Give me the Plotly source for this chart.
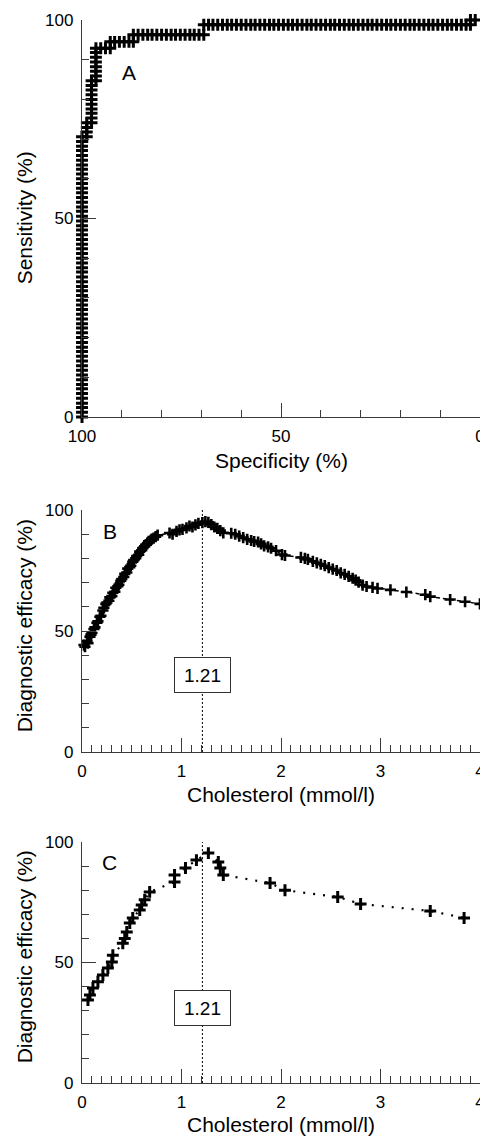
import plotly.graph_objects as go

# ---------------- Panel A: ROC curve ----------------
roc_specificity = [
    # vertical run at 100 %
    100, 100, 100, 100, 100, 100, 100, 100, 100, 100,
    100, 100, 100, 100, 100, 100, 100, 100, 100, 100,
    100, 100, 100, 100, 100, 100, 100, 100, 100, 100,
    100, 100, 100, 100, 100, 100, 100, 100, 100, 100,
    100, 100, 100, 100, 100, 100, 100, 100, 100, 100,
    100, 100, 100, 100, 100, 100, 100, 100, 100, 100,
    100,
    98.8, 98.8, 98.8, 98.8,
    97.6, 97.6, 97.6, 97.6, 97.6, 97.6, 97.6, 97.6, 97.6, 97.6,
    96.5, 96.5, 96.5, 96.5, 96.5, 96.5, 96.5, 96.5,
    95.3, 94.1, 92.9,
    92.9, 91.8, 90.6, 89.4, 88.2, 87.1,
    87.1, 85.9, 84.7, 83.5, 82.4, 81.2, 80.0, 78.8, 77.6,
    76.5, 75.3, 74.1, 72.9, 71.8, 70.6, 69.4,
    69.4, 68.2, 67.1, 65.9, 64.7, 63.5, 62.4, 61.2, 60.0, 58.8,
    57.6, 56.5, 55.3, 54.1, 52.9, 51.8, 50.6, 49.4, 48.2, 47.1,
    45.9, 44.7, 43.5, 42.4, 41.2, 40.0, 38.8, 37.6, 36.5, 35.3,
    34.1, 32.9, 31.8, 30.6, 29.4, 28.2, 27.1, 25.9, 24.7, 23.5,
    22.4, 21.2, 20.0, 18.8, 17.6, 16.5, 15.3, 14.1, 12.9, 11.8,
    10.6, 9.4, 8.2, 7.1, 5.9, 4.7, 3.5, 2.4,
    2.4, 1.2,
]
roc_sensitivity = [
    0.0, 1.2, 2.4, 3.5, 4.7, 5.9, 7.1, 8.2, 9.4, 10.6,
    11.8, 12.9, 14.1, 15.3, 16.5, 17.6, 18.8, 20.0, 21.2, 22.4,
    23.5, 24.7, 25.9, 27.1, 28.2, 29.4, 30.6, 31.8, 32.9, 34.1,
    35.3, 36.5, 37.6, 38.8, 40.0, 41.2, 42.4, 43.5, 44.7, 45.9,
    47.1, 48.2, 49.4, 50.6, 51.8, 52.9, 54.1, 55.3, 56.5, 57.6,
    58.8, 60.0, 61.2, 62.4, 63.5, 64.7, 65.9, 67.1, 68.2, 69.4,
    70.6,
    70.6, 71.8, 72.9, 74.1,
    74.1, 75.3, 76.5, 77.6, 78.8, 80.0, 81.2, 82.4, 83.5, 84.7,
    84.7, 85.9, 87.1, 88.2, 89.4, 90.6, 91.8, 92.9,
    92.9, 92.9, 92.9,
    94.5, 94.5, 94.5, 94.5, 94.5, 94.5,
    96.3, 96.3, 96.3, 96.3, 96.3, 96.3, 96.3, 96.3, 96.3,
    96.3, 96.3, 96.3, 96.3, 96.3, 96.3, 96.3,
    98.8, 98.8, 98.8, 98.8, 98.8, 98.8, 98.8, 98.8, 98.8, 98.8,
    98.8, 98.8, 98.8, 98.8, 98.8, 98.8, 98.8, 98.8, 98.8, 98.8,
    98.8, 98.8, 98.8, 98.8, 98.8, 98.8, 98.8, 98.8, 98.8, 98.8,
    98.8, 98.8, 98.8, 98.8, 98.8, 98.8, 98.8, 98.8, 98.8, 98.8,
    98.8, 98.8, 98.8, 98.8, 98.8, 98.8, 98.8, 98.8, 98.8, 98.8,
    98.8, 98.8, 98.8, 98.8, 98.8, 98.8, 98.8, 98.8,
    100.0, 100.0,
]

# ---------------- Panel B: efficacy vs cholesterol (all values) ----------------
b_cholesterol = [
    0.02, 0.03, 0.05, 0.06, 0.08, 0.09, 0.10, 0.12, 0.13, 0.15,
    0.16, 0.18, 0.19, 0.21, 0.22, 0.24, 0.25, 0.27, 0.28, 0.30,
    0.31, 0.33, 0.34, 0.36, 0.37, 0.39, 0.40, 0.42, 0.43, 0.45,
    0.46, 0.48, 0.49, 0.51, 0.52, 0.54, 0.55, 0.57, 0.58, 0.60,
    0.61, 0.63, 0.64, 0.66, 0.67, 0.69, 0.70, 0.72, 0.74, 0.76,
    0.88, 0.91, 0.95, 0.98, 1.01, 1.05, 1.08, 1.11, 1.14, 1.17,
    1.21, 1.24, 1.27, 1.30, 1.33, 1.36, 1.39, 1.42, 1.50, 1.54,
    1.58, 1.62, 1.66, 1.70, 1.73, 1.77, 1.80, 1.83, 1.87, 1.90,
    1.95, 2.01, 2.04, 2.20, 2.24, 2.27, 2.32, 2.36, 2.40, 2.44,
    2.48, 2.52, 2.56, 2.60, 2.64, 2.68, 2.72, 2.75, 2.78, 2.82,
    2.86, 2.92, 2.97, 3.10, 3.26, 3.45, 3.50, 3.70, 3.85, 4.00,
]
b_efficacy = [
    44.2, 43.5, 45.8, 45.0, 47.6, 48.5, 49.2, 50.8, 51.5, 53.4,
    54.0, 55.9, 56.3, 58.5, 59.6, 61.2, 61.8, 62.5, 63.9, 64.4,
    65.8, 66.2, 67.9, 68.5, 69.1, 70.8, 71.5, 72.3, 73.6, 74.2,
    75.8, 76.4, 77.0, 78.6, 79.3, 80.1, 81.0, 81.5, 82.8, 83.4,
    84.2, 85.0, 85.6, 86.4, 87.1, 87.5, 88.0, 88.4, 89.0, 89.6,
    90.5, 90.0, 91.2, 91.8, 92.0, 92.6, 93.4, 93.0, 93.9, 94.5,
    94.8, 95.2, 94.9, 94.0, 93.0, 92.4, 91.5, 90.6, 90.4, 90.0,
    89.2, 88.6, 87.9, 87.4, 87.0, 86.8, 86.0, 85.2, 84.8, 84.2,
    83.2, 81.6, 81.2, 80.4, 80.0, 79.6, 78.8, 78.2, 77.6, 77.0,
    76.2, 75.6, 75.0, 74.0, 73.4, 72.6, 71.8, 71.0, 70.2, 69.0,
    68.4, 68.0, 67.6, 67.0, 66.1, 65.0, 64.2, 63.0, 62.1, 61.2,
]

# ---------------- Panel C: efficacy vs cholesterol (selected) ----------------
c_cholesterol = [
    0.06, 0.08, 0.11, 0.16, 0.21, 0.26, 0.30, 0.31, 0.41, 0.43,
    0.45, 0.48, 0.51, 0.58, 0.60, 0.63, 0.68, 0.93, 0.93, 1.04,
    1.15, 1.27, 1.37, 1.39, 1.42, 1.89, 2.04, 2.57, 2.80, 3.50, 3.84,
]
c_efficacy = [
    34.4, 36.5, 39.4, 42.0, 44.8, 47.7, 50.2, 53.0, 58.0, 60.0,
    62.7, 66.4, 68.5, 71.8, 73.9, 76.0, 79.3, 83.4, 86.3, 89.2,
    92.5, 95.4, 91.7, 89.2, 86.3, 83.0, 80.0, 77.2, 74.3, 71.4, 68.5,
]

cutoff = 1.21
cutoff_label = "1.21"
spec_ticks = [100, 50, 0]
pct_ticks = [0, 50, 100]
chol_ticks = [0, 1, 2, 3, 4]

FONT = "Liberation Sans, Arial, Helvetica, sans-serif"
AX = "#3a3a3a"

fig = go.Figure()

cross = dict(symbol="cross-thin", size=8.5, color="black", line=dict(width=3, color="black"))
cross_b = dict(symbol="cross-thin", size=8, color="black", line=dict(width=2.6, color="black"))

fig.add_trace(go.Scatter(x=roc_specificity, y=roc_sensitivity, mode="lines+markers",
                         line=dict(color="black", width=2), marker=cross,
                         xaxis="x", yaxis="y", cliponaxis=False, showlegend=False))

fig.add_trace(go.Scatter(x=[cutoff, cutoff], y=[0, 100], mode="lines",
                         line=dict(color="black", width=1, dash="2px,2px"),
                         xaxis="x2", yaxis="y2", showlegend=False))
fig.add_trace(go.Scatter(x=b_cholesterol, y=b_efficacy, mode="lines+markers",
                         line=dict(color="black", width=1.5, dash="4px,3px"), marker=cross_b,
                         xaxis="x2", yaxis="y2", cliponaxis=False, showlegend=False))

fig.add_trace(go.Scatter(x=[cutoff, cutoff], y=[0, 100], mode="lines",
                         line=dict(color="black", width=1, dash="2px,2px"),
                         xaxis="x3", yaxis="y3", showlegend=False))
fig.add_trace(go.Scatter(x=c_cholesterol, y=c_efficacy, mode="lines+markers",
                         line=dict(color="black", width=2.2, dash="2px,8px"), marker=cross,
                         xaxis="x3", yaxis="y3", cliponaxis=False, showlegend=False))


def xax(rng, ticks, minor_dtick, anchor):
    return dict(range=rng, tickvals=ticks, ticks="inside", ticklen=14, tickwidth=1,
                tickcolor=AX, showline=True, linecolor=AX, linewidth=1.3,
                showgrid=False, zeroline=False, anchor=anchor, automargin=False,
                minor=dict(dtick=minor_dtick, tick0=0, ticks="inside", ticklen=7,
                           tickcolor=AX, tickwidth=1, showgrid=False),
                tickfont=dict(size=17, color="black", family=FONT),
                ticklabelstandoff=3, ticklabeloverflow="allow", domain=[0, 1])


def yax(domain, anchor):
    return dict(range=[0, 100], tickvals=pct_ticks, ticks="inside", ticklen=14, tickwidth=1,
                tickcolor=AX, showline=True, linecolor=AX, linewidth=1.3,
                showgrid=False, zeroline=False, anchor=anchor, domain=domain,
                automargin=False,
                minor=dict(dtick=10, tick0=0, ticks="inside", ticklen=7,
                           tickcolor=AX, tickwidth=1, showgrid=False),
                tickfont=dict(size=17, color="black", family=FONT),
                ticklabelstandoff=4, ticklabeloverflow="allow")


fig.update_layout(
    width=480, height=1136, autosize=False,
    margin=dict(l=82, r=0, t=20, b=53, autoexpand=False),
    paper_bgcolor="white", plot_bgcolor="white",
    font=dict(family=FONT, color="black"),
    xaxis=xax([100, 0], spec_ticks, 10, "y"),
    yaxis=yax([0.6265, 1.0], "x"),
    xaxis2=xax([0, 4], chol_ticks, 0.1, "y2"),
    yaxis2=yax([0.3114, 0.5390], "x2"),
    xaxis3=xax([0, 4], chol_ticks, 0.1, "y3"),
    yaxis3=yax([0.0, 0.2267], "x3"),
)

ann = []
# axis titles
for txt, y in [("Specificity (%)", 0.586), ("Cholesterol (mmol/l)", 0.271),
               ("Cholesterol (mmol/l)", -0.039)]:
    ann.append(dict(text=txt, xref="paper", yref="paper", x=0.5, y=y, showarrow=False,
                    xanchor="center", yanchor="middle", font=dict(size=21, family=FONT)))
for txt, y in [("Sensitivity (%)", 0.8137), ("Diagnostic efficacy (%)", 0.4299),
               ("Diagnostic efficacy (%)", 0.1185)]:
    ann.append(dict(text=txt, xref="paper", yref="paper", x=-0.145, y=y, showarrow=False,
                    textangle=-90, xanchor="center", yanchor="middle",
                    font=dict(size=21, family=FONT)))
# panel letters
ann.append(dict(text="A", xref="x", yref="y", x=88.2, y=86.9, showarrow=False,
                font=dict(size=21, family=FONT)))
ann.append(dict(text="B", xref="x2", yref="y2", x=0.28, y=91, showarrow=False,
                font=dict(size=21, family=FONT)))
ann.append(dict(text="C", xref="x3", yref="y3", x=0.28, y=91.3, showarrow=False,
                font=dict(size=21, family=FONT)))
# cut-off boxes
for xr, yr, yv in [("x2", "y2", 31.8), ("x3", "y3", 31.1)]:
    ann.append(dict(text=cutoff_label, xref=xr, yref=yr, x=cutoff, y=yv, showarrow=False,
                    width=55, height=34, bgcolor="white", bordercolor="#333",
                    borderwidth=1, borderpad=0, font=dict(size=19, family=FONT)))
fig.update_layout(annotations=ann)

fig.write_html(
    "out.html",
    config={"displayModeBar": False},
    post_script="document.body.style.margin='0';document.body.style.overflow='hidden';",
)
